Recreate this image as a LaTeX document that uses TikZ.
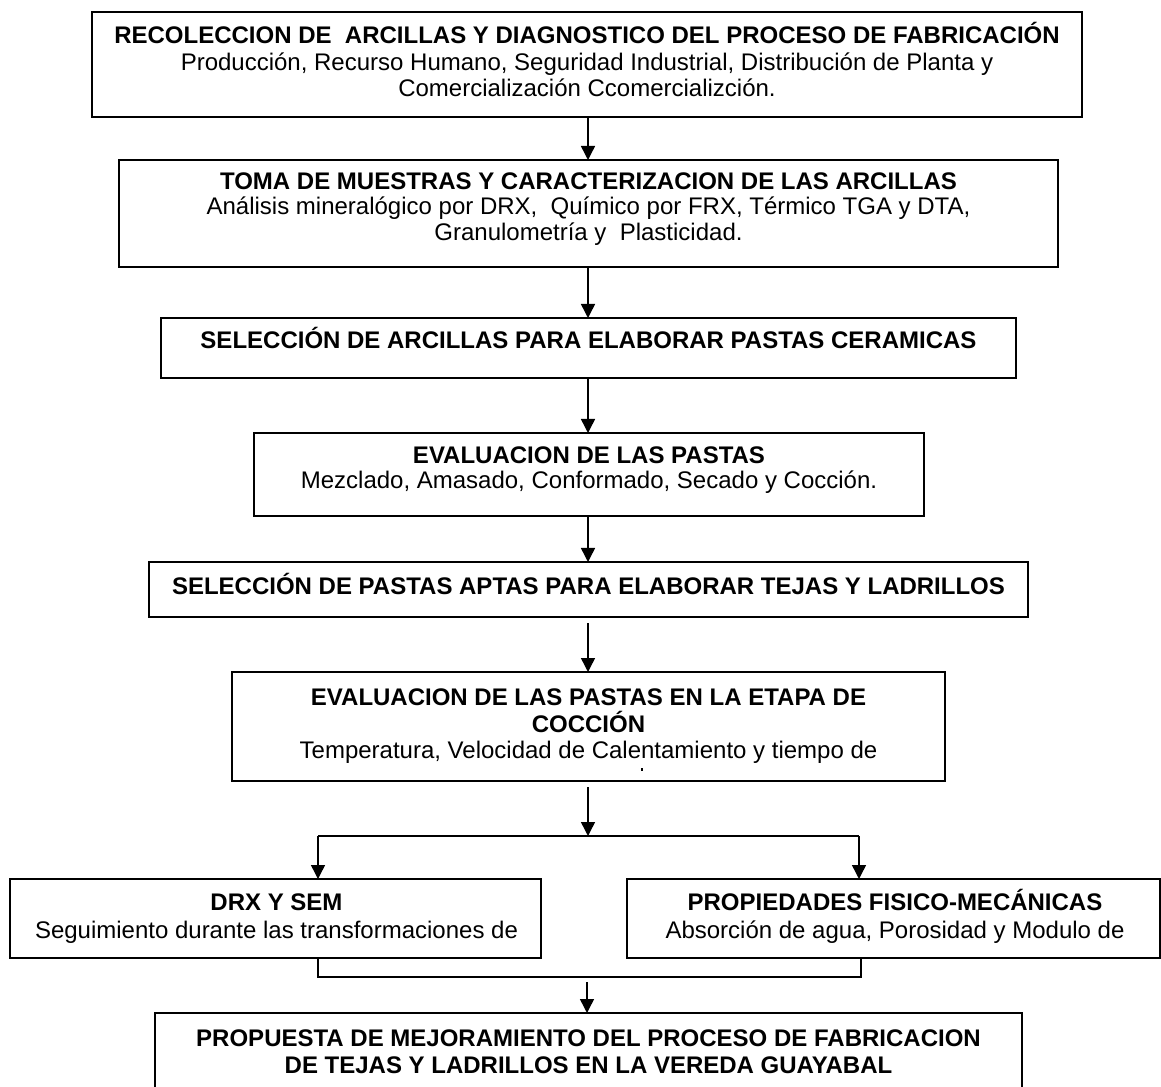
\documentclass[tikz,border=0pt]{standalone}
\usepackage{fontspec}
\setmainfont{Liberation Sans}
\usetikzlibrary{arrows.meta}
\newcommand\mybox[5]{\node[box, minimum width={(#4-#2)*0.75pt}, minimum height={(#5-#3)*0.75pt}] (#1) at ({(#2+#4)/2},{(#3+#5)/2}) {};}
\begin{document}
\begin{tikzpicture}[x=0.75pt,y=-0.75pt,
  box/.style={draw, line width=1.5pt, rectangle, inner sep=0pt, outer sep=0pt},
  tb/.style={anchor=base, inner sep=0pt, font=\fontsize{18pt}{20pt}\selectfont\bfseries},
  tn/.style={anchor=base, inner sep=0pt, font=\fontsize{18pt}{20pt}\selectfont},
  arr/.style={line width=1.1pt, -{Triangle[length=10.5pt,width=10.5pt]}},
  ln/.style={line width=1.1pt}]
\useasboundingbox (0,0) rectangle (1161,1087);
\clip (0,0) rectangle (1161,1087);

% boxes
\mybox{b1}{92}{12}{1082}{117}
\mybox{b2}{119}{160}{1058}{267}
\mybox{b3}{161}{318}{1016}{378}
\mybox{b4}{254}{433}{924}{516}
\mybox{b5}{149}{562}{1028}{617}
\mybox{b6}{232}{672}{945}{781}
\mybox{b7}{10}{879}{541}{958}
\mybox{b8}{627}{879}{1160}{958}
\mybox{b9}{155}{1013}{1022}{1115}

% texts
\node[tb] (t1a) at (587,43.5) {RECOLECCION DE~~ARCILLAS Y DIAGNOSTICO DEL PROCESO DE FABRICACIÓN};
\node[tn] (t1b) at (587,70.5) {Producción, Recurso Humano, Seguridad Industrial, Distribución de Planta y};
\node[tn] (t1c) at (587,96.5) {Comercialización Ccomercializción.};

\node[tb] (t2a) at (588.5,189.5) {TOMA DE MUESTRAS Y CARACTERIZACION DE LAS ARCILLAS};
\node[tn] (t2b) at (588.5,215) {Análisis mineralógico por DRX,~~Químico por FRX, Térmico TGA y DTA,};
\node[tn] (t2c) at (588.5,240.5) {Granulometría y~~Plasticidad.};

\node[tb] (t3) at (588.5,348.5) {SELECCIÓN DE ARCILLAS PARA ELABORAR PASTAS CERAMICAS};

\node[tb] (t4a) at (589,463.5) {EVALUACION DE LAS PASTAS};
\node[tn] (t4b) at (589,489) {Mezclado, Amasado, Conformado, Secado y Cocción.};

\node[tb] (t5) at (588.5,594.5) {SELECCIÓN DE PASTAS APTAS PARA ELABORAR TEJAS Y LADRILLOS};

\node[tb] (t6a) at (588.5,705.5) {EVALUACION DE LAS PASTAS EN LA ETAPA DE};
\node[tb] (t6b) at (588.5,732) {COCCIÓN};
\node[tn] (t6c) at (588.5,758.5) {Temperatura, Velocidad de Calentamiento y tiempo de};
\fill (640.5,768) rectangle (643,771);

\node[tb] (t7a) at (276.5,910.5) {DRX Y SEM};
\node[tn] (t7b) at (276.5,938.5) {Seguimiento durante las transformaciones de};

\node[tb] (t8a) at (895,910.5) {PROPIEDADES FISICO-MECÁNICAS};
\node[tn] (t8b) at (895,938.5) {Absorción de agua, Porosidad y Modulo de};

\node[tb] (t9a) at (588.5,1046.5) {PROPUESTA DE MEJORAMIENTO DEL PROCESO DE FABRICACION};
\node[tb] (t9b) at (588.5,1073.5) {DE TEJAS Y LADRILLOS EN LA VEREDA GUAYABAL};

% connectors
\coordinate (mx) at (588,0);
\draw[arr] (mx |- b1.south) -- (mx |- b2.north);
\draw[arr] (mx |- b2.south) -- (mx |- b3.north);
\draw[arr] (mx |- b3.south) -- (mx |- b4.north);
\draw[arr] (mx |- b4.south) -- (mx |- b5.north);
\draw[arr, shorten <=4.5pt] (mx |- b5.south) -- (mx |- b6.north);

\coordinate (j1) at (588,836);
\coordinate (jl) at (318,836);
\coordinate (jr) at (859,836);
\draw[arr, shorten <=4.5pt] (mx |- b6.south) -- (j1);
\draw[ln] (jl) -- (jr);
\draw[arr] (jl) -- (jl |- b7.north);
\draw[arr] (jr) -- (jr |- b8.north);

\coordinate (kl) at (318,977);
\coordinate (kr) at (861,977);
\coordinate (k) at (587,977);
\draw[ln] (kl |- b7.south) -- (kl) -- (kr) -- (kr |- b8.south);
\draw[arr, shorten <=3.75pt] (k) -- (k |- b9.north);
\end{tikzpicture}
\end{document}
